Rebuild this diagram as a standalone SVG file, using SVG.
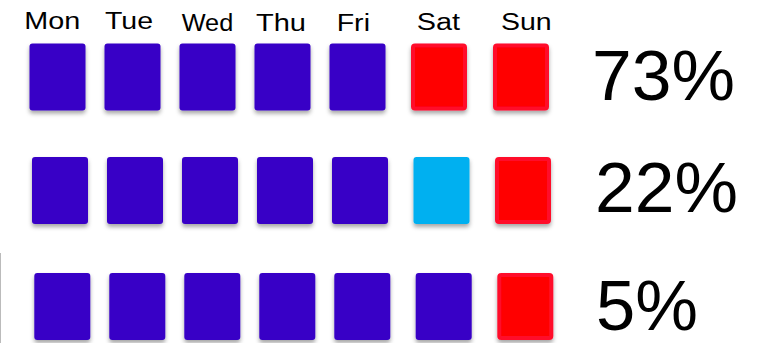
<svg xmlns="http://www.w3.org/2000/svg" width="760" height="343" viewBox="0 0 760 343">
<defs>
<filter id="sh" x="-20%" y="-20%" width="140%" height="150%">
<feDropShadow dx="0" dy="3" stdDeviation="2" flood-color="#000" flood-opacity="0.35"/>
</filter>
<style>
.b{fill:#3700C6;filter:url(#sh)}
.r{fill:#FF0000;stroke:#FF0A2C;stroke-width:4;filter:url(#sh)}
.c{fill:#00B0F0;filter:url(#sh)}
.d{font-family:"Liberation Sans",Arial,sans-serif;font-size:23px;fill:#000}
.p{font-family:"Liberation Sans",Arial,sans-serif;font-size:70px;fill:#000}
</style>
</defs>
<rect width="760" height="343" fill="#fff"/>
<line x1="0.5" y1="253" x2="0.5" y2="343" stroke="#bbb" stroke-width="1"/>
<g id="labels">
<text class="d" x="24.3" y="29" textLength="56" lengthAdjust="spacingAndGlyphs">Mon</text>
<text class="d" x="105" y="29" textLength="48" lengthAdjust="spacingAndGlyphs">Tue</text>
<text class="d" x="181.7" y="31" textLength="51.6" lengthAdjust="spacingAndGlyphs">Wed</text>
<text class="d" x="256" y="31" textLength="50" lengthAdjust="spacingAndGlyphs">Thu</text>
<text class="d" x="336.7" y="31" textLength="33.3" lengthAdjust="spacingAndGlyphs">Fri</text>
<text class="d" x="416.7" y="30" textLength="43.3" lengthAdjust="spacingAndGlyphs">Sat</text>
<text class="d" x="501" y="30" textLength="50.7" lengthAdjust="spacingAndGlyphs">Sun</text>
</g>
<g id="row1">
<rect class="b" x="29.5" y="43.5" width="56" height="67" rx="3"/>
<rect class="b" x="104.5" y="43.5" width="56" height="67" rx="3"/>
<rect class="b" x="179.5" y="43.5" width="56" height="67" rx="3"/>
<rect class="b" x="254.5" y="43.5" width="56" height="67" rx="3"/>
<rect class="b" x="329.5" y="43.5" width="56" height="67" rx="3"/>
<rect class="r" x="413" y="45.5" width="52" height="63" rx="2"/>
<rect class="r" x="495" y="45.5" width="52" height="63" rx="2"/>
<text class="p" x="592" y="100" textLength="143" lengthAdjust="spacingAndGlyphs">73%</text>
</g>
<g id="row2">
<rect class="b" x="32" y="157" width="56" height="67" rx="3"/>
<rect class="b" x="107" y="157" width="56" height="67" rx="3"/>
<rect class="b" x="182" y="157" width="56" height="67" rx="3"/>
<rect class="b" x="257" y="157" width="56" height="67" rx="3"/>
<rect class="b" x="332" y="157" width="56" height="67" rx="3"/>
<rect class="c" x="413.5" y="157" width="56" height="67" rx="3"/>
<rect class="r" x="497" y="159" width="52" height="63" rx="2"/>
<text class="p" x="595" y="212" textLength="143" lengthAdjust="spacingAndGlyphs">22%</text>
</g>
<g id="row3">
<rect class="b" x="34.3" y="273" width="56" height="67" rx="3"/>
<rect class="b" x="109.3" y="273" width="56" height="67" rx="3"/>
<rect class="b" x="184.3" y="273" width="56" height="67" rx="3"/>
<rect class="b" x="259.3" y="273" width="56" height="67" rx="3"/>
<rect class="b" x="334.3" y="273" width="56" height="67" rx="3"/>
<rect class="b" x="415.7" y="273" width="56" height="67" rx="3"/>
<rect class="r" x="499.3" y="275" width="52" height="63" rx="2"/>
<text class="p" x="596" y="330" textLength="102" lengthAdjust="spacingAndGlyphs">5%</text>
</g>
</svg>
